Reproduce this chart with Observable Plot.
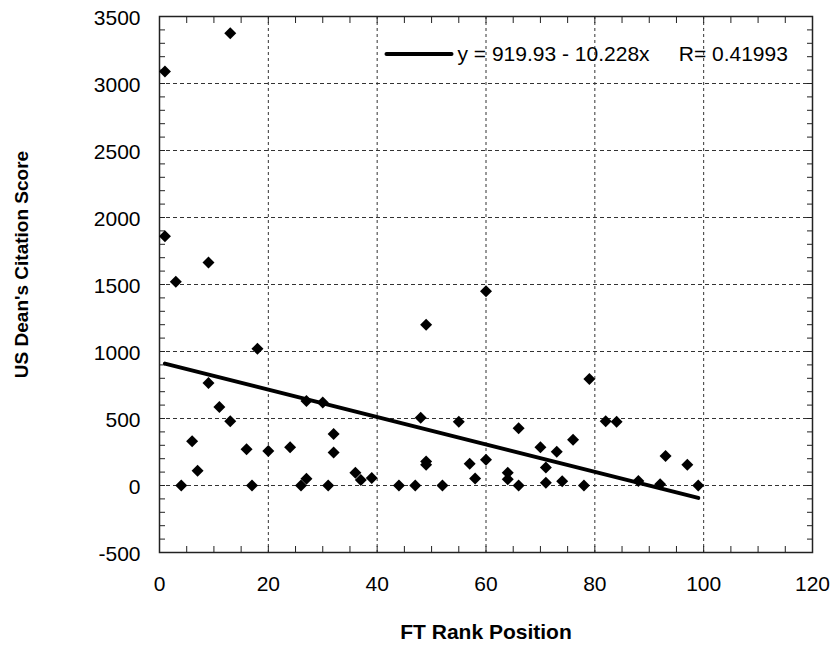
<!DOCTYPE html>
<html><head><meta charset="utf-8">
<script src="https://cdn.jsdelivr.net/npm/d3@7"></script>
<script src="https://cdn.jsdelivr.net/npm/@observablehq/plot@0.6"></script>
<style>
html,body{margin:0;padding:0;background:#fff;}
#chart{width:834px;height:645px;}
</style></head><body><div id="chart"></div>
<script>
// ---- data ----
const ftRank = [1, 13, 1, 9, 3, 18, 9, 11, 13, 6, 7, 4, 16, 17, 20, 24, 27, 30, 32, 32,
  36, 37, 39, 44, 26, 27, 31, 49, 79, 60, 48, 55, 82, 84, 66, 76, 70, 73, 49, 49,
  57, 60, 58, 64, 64, 71, 47, 52, 66, 71, 74, 78, 88, 92, 93, 97, 99];
const citationScore = [3090, 3375, 1860, 1665, 1520, 1020, 765, 585, 480, 330, 110, 0, 270, 0, 257, 285, 630, 620, 384, 247,
  95, 41, 56, 0, 0, 50, 0, 1200, 795, 1450, 505, 475, 480, 475, 428, 341, 285, 252, 180, 155,
  162, 192, 53, 95, 46, 135, 0, 0, 0, 21, 31, 0, 34, 10, 220, 155, 0];
const fitIntercept = 919.93;
const fitSlope = -10.228;
const fitR = 0.41993;
const xTickLabels = [0, 20, 40, 60, 80, 100, 120];
const yTickLabels = [-500, 0, 500, 1000, 1500, 2000, 2500, 3000, 3500];
const xGridValues = [20, 40, 60, 80, 100];
const yGridValues = [0, 500, 1000, 1500, 2000, 2500, 3000];
const xMinorTicks = d3.range(0, 121, 5);
const yMinorTicks = d3.range(-500, 3501, 100);
const xTitle = "FT Rank Position";
const yTitle = "US Dean's Citation Score";

// ---- derived tables ----
const points = ftRank.map((x, i) => ({x, y: citationScore[i]}));
const fitLine = d3.extent(ftRank).map(x => ({x, y: fitIntercept + fitSlope * x}));
const legendText = `y = ${fitIntercept} - ${Math.abs(fitSlope)}x\u00a0\u00a0\u00a0\u00a0\u00a0R= ${fitR}`;
const lineShape = {draw(context, l) { context.moveTo(0, 0); context.lineTo(0, -l); }};
const plainFormat = d => String(d);

const tickStyle = {tickSize: 6, tickFormat: () => "", label: null, stroke: "#222", strokeWidth: 1};

const chart = Plot.plot({
  width: 834,
  height: 645,
  marginLeft: 159,
  marginRight: 22,
  marginTop: 16,
  marginBottom: 93,
  style: {fontFamily: "'Liberation Sans', Arial, sans-serif", fontSize: "21px", background: "#fff", color: "#000"},
  x: {domain: [0, 120]},
  y: {domain: [-500, 3500]},
  marks: [
    Plot.gridX(xGridValues, {stroke: "#333", strokeOpacity: 1, strokeWidth: 1, strokeDasharray: "3,3"}),
    Plot.gridY(yGridValues, {stroke: "#333", strokeOpacity: 1, strokeWidth: 1, strokeDasharray: "4,3"}),
    Plot.axisX(xMinorTicks, {anchor: "bottom", dy: -6, ...tickStyle}),
    Plot.axisX(xMinorTicks, {anchor: "top", dy: 6, ...tickStyle}),
    Plot.axisY(yMinorTicks, {anchor: "left", dx: 6, ...tickStyle}),
    Plot.axisY(yMinorTicks, {anchor: "right", dx: -6, ...tickStyle}),
    Plot.axisX(xTickLabels, {anchor: "bottom", tickSize: 0, tickPadding: 24, fontSize: 21, tickFormat: plainFormat, label: null}),
    Plot.axisY(yTickLabels, {anchor: "left", tickSize: 0, tickPadding: 19, fontSize: 21, dy: 2, tickFormat: plainFormat, label: null}),
    Plot.frame({stroke: "#222", strokeWidth: 1.5}),
    Plot.line(fitLine, {x: "x", y: "y", stroke: "#000", strokeWidth: 4}),
    Plot.dot(points, {x: "x", y: "y", symbol: "diamond2", r: 5.4, fill: "#000", stroke: null}),
    Plot.vector([legendText], {frameAnchor: "top-left", dx: 227, dy: 37.5, length: 65, rotate: 90, anchor: "start", shape: lineShape, stroke: "#000", strokeWidth: 4}),
    Plot.text([legendText], {text: d => d, frameAnchor: "top-left", dx: 298, dy: 38, textAnchor: "start", lineAnchor: "middle", fontSize: 21}),
    Plot.text([xTitle], {text: d => d, frameAnchor: "bottom", dy: 80, textAnchor: "middle", lineAnchor: "middle", fontWeight: "bold", fontSize: 21}),
    Plot.text([yTitle], {text: d => d, frameAnchor: "left", dx: -138, dy: -20, rotate: -90, textAnchor: "middle", lineAnchor: "middle", fontWeight: "bold", fontSize: 19})
  ]
});
document.getElementById("chart").appendChild(chart);
</script></body></html>
